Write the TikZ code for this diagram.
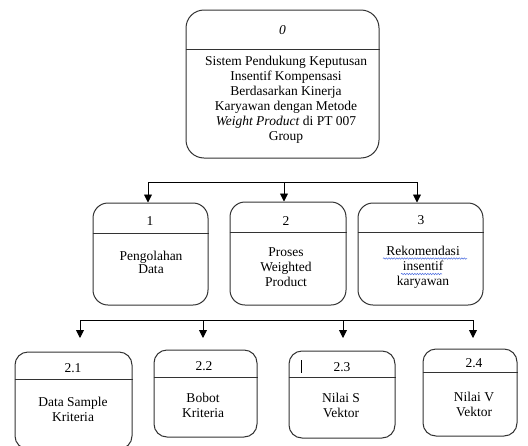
\documentclass[tikz,border=0pt]{standalone}
\usepackage{fontspec}
\setmainfont{Liberation Serif}
\usetikzlibrary{arrows.meta,decorations.pathmorphing}
\definecolor{lc}{HTML}{333333}
\definecolor{spell}{HTML}{4A6CE0}
\tikzset{
  box/.style={draw=lc, line width=1pt, inner sep=0pt, fill=white},
  divline/.style={draw=lc, line width=0.9pt},
  conn/.style={draw=black, line width=0.9pt},
  arr/.style={conn, -{Triangle[width=8pt,length=8pt]}},
  txt/.style={align=center, inner sep=0pt, font=\fontsize{13.5}{15}\selectfont},
  spellmark/.style={draw=spell, line width=0.5pt, decorate, decoration={snake, amplitude=0.7pt, segment length=2.6pt}}
}
\begin{document}
\begin{tikzpicture}[x=1pt,y=-1pt]
\useasboundingbox (0,0) rectangle (528,445);

% top box
\node[box, rounded corners=18pt, minimum width=193pt, minimum height=148pt] (b0) at (282.5,84) {};
\draw[divline] (b0.west |- 0,49) -- (b0.east |- 0,49);
\node[txt] (n0) at (282.5,30) {\itshape 0};
\node[txt] (t0) at (286,99.5) {Sistem Pendukung Keputusan\\Insentif Kompensasi\\Berdasarkan Kinerja\\Karyawan dengan Metode\\\textit{Weight Product} di PT 007\\Group};

% second row
\node[box, rounded corners=15pt, minimum width=115pt, minimum height=102pt] (b1) at (150.5,254) {};
\draw[divline] (b1.west |- 0,233) -- (b1.east |- 0,233);
\node[txt] (n1) at (150,221) {1};
\node[txt] (t1) at (151,262) {Pengolahan\\[-2pt]Data};

\node[box, rounded corners=15pt, minimum width=116pt, minimum height=103pt] (b2) at (288,253.5) {};
\draw[divline] (b2.west |- 0,232) -- (b2.east |- 0,232);
\node[txt] (n2) at (286,221) {2};
\node[txt] (t2) at (286,267.5) {Proses\\Weighted\\Product};

\node[box, rounded corners=15pt, minimum width=125pt, minimum height=102pt] (b3) at (420.5,254) {};
\draw[divline] (b3.west |- 0,232) -- (b3.east |- 0,232);
\node[txt] (n3) at (421,220) {3};
\node[txt] (t3) at (423,267.5) {Rekomendasi\\insentif\\karyawan};
\draw[spellmark] (383,258.5) -- (467,258.5);
\draw[spellmark] (401,274) -- (442,274);

% connectors row 1
\coordinate (h1l) at (148,182);
\coordinate (h1m) at (284,182);
\coordinate (h1r) at (417,182);
\draw[conn] (h1l) -- (h1r);
\draw[arr] (h1l) -- (h1l |- b1.north);
\draw[arr] (h1m) -- (h1m |- b2.north);
\draw[arr] (h1r) -- (h1r |- b3.north);

% third row
\node[box, rounded corners=13pt, minimum width=117pt, minimum height=97pt] (b21) at (73.5,400.5) {};
\draw[divline] (b21.west |- 0,379) -- (b21.east |- 0,379);
\node[txt] (n21) at (73,368) {2.1};
\node[txt] (t21) at (73,409) {Data Sample\\Kriteria};

\node[box, rounded corners=13pt, minimum width=103pt, minimum height=87pt] (b22) at (205.5,393.5) {};
\draw[divline] (b22.west |- 0,377) -- (b22.east |- 0,377);
\node[txt] (n22) at (204,366) {2.2};
\node[txt] (t22) at (203,405) {Bobot\\Kriteria};

\node[box, rounded corners=13pt, minimum width=106pt, minimum height=87pt] (b23) at (342,394.5) {};
\draw[divline] (b23.west |- 0,377) -- (b23.east |- 0,377);
\node[txt] (n23) at (342,367) {2.3};
\node[txt] (t23) at (341,405.5) {Nilai S\\Vektor};
\draw[draw=black, line width=0.7pt] (301.5,360) -- (301.5,373);

\node[box, rounded corners=13pt, minimum width=94pt, minimum height=87pt] (b24) at (470,392.5) {};
\draw[divline] (b24.west |- 0,372) -- (b24.east |- 0,372);
\node[txt] (n24) at (474,363) {2.4};
\node[txt] (t24) at (474,404) {Nilai V\\Vektor};

% connectors row 2
\coordinate (h2a) at (80,320);
\coordinate (h2b) at (203,320);
\coordinate (h2c) at (343,320);
\coordinate (h2d) at (473,320);
\draw[conn] (h2a) -- (h2d);
\draw[arr] (h2a) -- (80,338);
\draw[arr] (h2b) -- (203,338);
\draw[arr] (h2c) -- (343,338);
\draw[arr] (h2d) -- (473,338);
\end{tikzpicture}
\end{document}
